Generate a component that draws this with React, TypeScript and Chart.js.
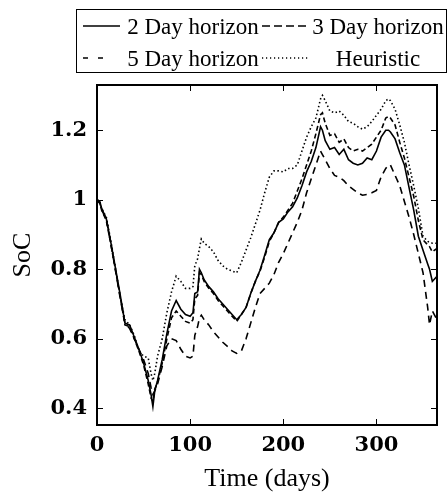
import React, { useEffect, useRef } from "react";
import { Chart, registerables } from "chart.js";

Chart.register(...registerables);

const DAYS = [
  0, 3, 5, 10, 15, 20, 25, 30, 35, 40,
  45, 50, 55, 58, 60, 62, 65, 70, 75, 80,
  85, 90, 95, 100, 103, 105, 108, 110, 112, 115,
  120, 125, 130, 135, 140, 145, 150, 155, 160, 165,
  170, 175, 180, 185, 190, 195, 200, 205, 210, 215,
  220, 225, 230, 235, 240, 242, 245, 250, 255, 260,
  265, 270, 275, 280, 285, 290, 295, 300, 305, 310,
  313, 315, 320, 325, 330, 335, 340, 345, 350, 355,
  357, 360, 365,
];

const H2 = [
  1.0, 0.995, 0.975, 0.945, 0.875, 0.8, 0.725, 0.645, 0.64, 0.605,
  0.57, 0.53, 0.48, 0.44, 0.405, 0.45, 0.48, 0.54, 0.615, 0.68,
  0.71, 0.685, 0.67, 0.665, 0.675, 0.73, 0.735, 0.8, 0.79, 0.77,
  0.75, 0.735, 0.715, 0.7, 0.685, 0.67, 0.655, 0.67, 0.69, 0.73,
  0.765, 0.797, 0.84, 0.885, 0.905, 0.935, 0.945, 0.965, 0.98, 1.005,
  1.04, 1.08, 1.11, 1.15, 1.21, 1.2, 1.17, 1.145, 1.15, 1.13,
  1.145, 1.115, 1.105, 1.1, 1.105, 1.12, 1.115, 1.14, 1.18, 1.2,
  1.2, 1.195, 1.175, 1.135, 1.1, 1.035, 0.97, 0.895, 0.855, 0.815,
  0.8, 0.765, 0.78,
];

const H3 = [
  1.0, 0.99, 0.97, 0.94, 0.87, 0.795, 0.72, 0.64, 0.635, 0.6,
  0.565, 0.525, 0.47, 0.43, 0.42, 0.455, 0.475, 0.53, 0.6, 0.66,
  0.68, 0.665, 0.65, 0.645, 0.655, 0.715, 0.725, 0.79, 0.785, 0.765,
  0.745, 0.73, 0.71, 0.695, 0.68, 0.665, 0.65, 0.67, 0.69, 0.73,
  0.765, 0.795, 0.835, 0.88, 0.905, 0.935, 0.95, 0.97, 0.99, 1.025,
  1.06, 1.1, 1.14, 1.19, 1.245, 1.25, 1.22, 1.185, 1.19, 1.165,
  1.175, 1.15, 1.14, 1.145, 1.14, 1.15, 1.16, 1.18, 1.2, 1.235,
  1.24, 1.235, 1.215, 1.165, 1.12, 1.065, 1.01, 0.94, 0.885, 0.87,
  0.865, 0.85, 0.86,
];

const H5 = [
  1.0, 0.99, 0.97, 0.945, 0.87, 0.795, 0.715, 0.645, 0.63, 0.6,
  0.57, 0.54, 0.5, 0.46, 0.44, 0.45, 0.47, 0.52, 0.58, 0.6,
  0.595, 0.57, 0.55, 0.545, 0.55, 0.61, 0.635, 0.66, 0.668, 0.655,
  0.64, 0.62, 0.605, 0.59, 0.578, 0.565, 0.558, 0.565, 0.6, 0.645,
  0.69, 0.73, 0.745, 0.76, 0.785, 0.82, 0.845, 0.875, 0.905, 0.935,
  0.97, 1.02, 1.06, 1.1, 1.14, 1.13, 1.115, 1.09, 1.07, 1.065,
  1.055, 1.04, 1.03, 1.02, 1.013, 1.015, 1.02, 1.027, 1.066, 1.09,
  1.1, 1.1, 1.07, 1.04, 0.995, 0.95, 0.9, 0.845, 0.79, 0.69,
  0.64, 0.68, 0.655,
];

const HEUR = [
  1.0, 0.995, 0.975, 0.95, 0.88, 0.8, 0.72, 0.655, 0.64, 0.61,
  0.565, 0.55, 0.545, 0.5, 0.48, 0.5, 0.55, 0.6, 0.675, 0.735,
  0.78, 0.765, 0.745, 0.745, 0.75, 0.81, 0.83, 0.86, 0.887, 0.875,
  0.865, 0.85, 0.825, 0.81, 0.8, 0.795, 0.79, 0.82, 0.855, 0.89,
  0.93, 0.97, 1.02, 1.065, 1.083, 1.083, 1.08, 1.09, 1.09, 1.1,
  1.14, 1.18, 1.21, 1.235, 1.29, 1.3, 1.285, 1.255, 1.25, 1.255,
  1.243, 1.225, 1.22, 1.21, 1.203, 1.21, 1.225, 1.243, 1.26, 1.285,
  1.29, 1.285, 1.26, 1.215, 1.165, 1.1, 1.04, 0.975, 0.895, 0.88,
  0.878, 0.875, 0.875,
];

const SERIES_LABELS = ["2 Day horizon", "3 Day horizon", "5 Day horizon", "Heuristic"];
const X_TICKS = [0, 100, 200, 300];
const X_TICK_LABELS = ["0", "100", "200", "300"];
const Y_TICKS = [0.4, 0.6, 0.8, 1, 1.2];
const Y_TICK_LABELS = ["0.4", "0.6", "0.8", "1", "1.2"];
const X_TITLE = "Time (days)";
const Y_TITLE = "SoC";

const DASHES: number[][] = [[], [5, 3], [7, 5], [1.5, 2.5]];
const LEGEND_DASHES: number[][] = [[], [8, 4], [5, 10], [1.2, 2.8]];

const framePlugin = {
  id: "frameAndLegend",
  afterDraw(chart: any) {
    const { ctx, chartArea: a, scales } = chart;
    const xs = scales.x;
    const ys = scales.y;
    ctx.save();
    ctx.strokeStyle = "#000";
    ctx.setLineDash([]);
    ctx.lineWidth = 1;
    const tl = 6;
    X_TICKS.forEach((v) => {
      const px = Math.round(xs.getPixelForValue(v)) + 0.5;
      ctx.beginPath();
      ctx.moveTo(px, a.bottom);
      ctx.lineTo(px, a.bottom - tl);
      ctx.moveTo(px, a.top);
      ctx.lineTo(px, a.top + tl);
      ctx.stroke();
    });
    Y_TICKS.forEach((v) => {
      const py = Math.round(ys.getPixelForValue(v)) + 0.5;
      ctx.beginPath();
      ctx.moveTo(a.left, py);
      ctx.lineTo(a.left + tl, py);
      ctx.moveTo(a.right, py);
      ctx.lineTo(a.right - tl, py);
      ctx.stroke();
    });
    ctx.lineWidth = 2;
    ctx.strokeRect(a.left, a.top, a.right - a.left, a.bottom - a.top);

    // legend
    ctx.lineWidth = 1;
    ctx.strokeRect(76.5, 9.5, 370, 63);
    const rows = [26, 58];
    const baselines = [33.5, 65.5];
    const sampleX = [
      [83, 120],
      [262, 308],
    ];
    const textCenters = [193, 378];
    ctx.font = "23px 'Liberation Serif'";
    ctx.fillStyle = "#000";
    ctx.textAlign = "center";
    ctx.textBaseline = "alphabetic";
    chart.data.datasets.forEach((ds: any, i: number) => {
      const r = Math.floor(i / 2);
      const c = i % 2;
      ctx.save();
      ctx.lineWidth = 1.6;
      ctx.setLineDash(LEGEND_DASHES[i]);
      ctx.beginPath();
      const x1 = i === 2 ? 105 : sampleX[c][1];
      ctx.moveTo(sampleX[c][0], rows[r]);
      ctx.lineTo(x1, rows[r]);
      ctx.stroke();
      ctx.restore();
      ctx.fillText(ds.label, textCenters[c], baselines[r]);
    });
    ctx.restore();
  },
};

export default function App() {
  const ref = useRef<HTMLCanvasElement | null>(null);
  useEffect(() => {
    if (!ref.current) return;
    const series = [H2, H3, H5, HEUR];
    const chart = new Chart(ref.current, {
      type: "line",
      data: {
        datasets: series.map((vals, i) => ({
          label: SERIES_LABELS[i],
          data: DAYS.map((d, j) => ({ x: d, y: vals[j] })),
          borderColor: "#000",
          borderWidth: 1.6,
          borderDash: DASHES[i],
          pointRadius: 0,
          fill: false,
          tension: 0,
        })),
      },
      options: {
        animation: false,
        responsive: false,
        devicePixelRatio: 1,
        layout: { padding: { left: 0, right: 11, top: 85, bottom: 0 } },
        plugins: {
          legend: { display: false },
          tooltip: { enabled: false },
        },
        scales: {
          x: {
            type: "linear",
            min: 0,
            max: 365,
            grid: { display: false, drawTicks: false },
            border: { display: false },
            afterBuildTicks: (s: any) => {
              s.ticks = X_TICKS.map((v) => ({ value: v }));
            },
            afterFit: (s: any) => {
              s.height = 72;
            },
            ticks: {
              padding: 8,
              maxRotation: 0,
              color: "#000",
              font: { family: "'DejaVu Serif'", size: 21, weight: "bold" },
              callback: (v: any) => {
                const k = X_TICKS.indexOf(Number(v));
                return k >= 0 ? X_TICK_LABELS[k] : "";
              },
            },
            title: {
              display: true,
              text: X_TITLE,
              color: "#000",
              font: { family: "'Liberation Serif'", size: 26 },
              padding: { top: 0, bottom: 2 },
            },
          },
          y: {
            type: "linear",
            min: 0.352,
            max: 1.33,
            grid: { display: false, drawTicks: false },
            border: { display: false },
            afterBuildTicks: (s: any) => {
              s.ticks = Y_TICKS.map((v) => ({ value: v }));
            },
            afterFit: (s: any) => {
              s.width = 97;
            },
            ticks: {
              padding: 10,
              color: "#000",
              font: { family: "'DejaVu Serif'", size: 21, weight: "bold" },
              callback: (v: any) => {
                const k = Y_TICKS.findIndex((t) => Math.abs(t - Number(v)) < 1e-6);
                return k >= 0 ? Y_TICK_LABELS[k] : "";
              },
            },
            title: {
              display: true,
              text: Y_TITLE,
              color: "#000",
              font: { family: "'Liberation Serif'", size: 26 },
              padding: { top: 8, bottom: 0 },
            },
          },
        },
      },
      plugins: [framePlugin],
    });
    return () => chart.destroy();
  }, []);
  return (
    <div style={{ position: "absolute", left: 0, top: 0, width: 448, height: 497, background: "#fff" }}>
      <canvas ref={ref} width={448} height={497} style={{ display: "block" }} />
    </div>
  );
}
